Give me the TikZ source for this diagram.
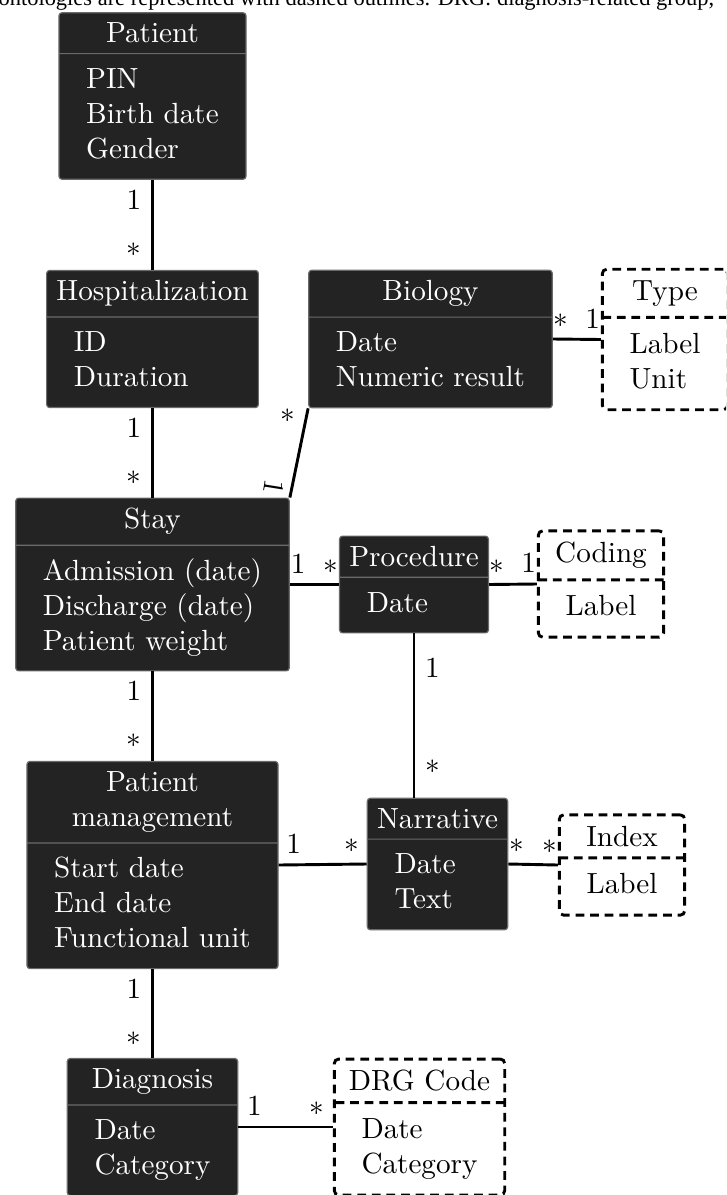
\documentclass[tikz,border=0pt]{standalone}
\usepackage{fontspec}
\newfontfamily\capfont{Liberation Serif}
\usetikzlibrary{shapes.multipart}

\definecolor{boxfill}{HTML}{232323}
\definecolor{boxline}{HTML}{6A6A6A}

\begin{document}
\begin{tikzpicture}[x=0.3428pt, y=-0.3428pt,
  entity/.style={rectangle split, rectangle split parts=2, rectangle split part align={center,left},
    draw=boxline, fill=boxfill, text=white, rounded corners=1pt, align=center},
  onto/.style={rectangle split, rectangle split parts=2, rectangle split part align={center,left},
    draw, line width=1pt, dash pattern=on 3pt off 2pt, rounded corners=1.5pt, align=center},
  assoc/.style={line width=1pt}]

  \useasboundingbox (0,0) rectangle (726,1195);
  \clip (0,0) rectangle (726,1195);

  % end of the caption line above the figure
  \node[anchor=base west, inner sep=0, font=\capfont\fontsize{7.7}{9}\selectfont] (caption) at (-2,5)
    {ontologies are represented with dashed outlines. DRG: diagnosis-related group,};

  % classes
  \node[entity] (patient) at (152.5,96) {Patient\nodepart{second}\begin{tabular}{l}PIN\\Birth date\\Gender\end{tabular}};
  \node[entity] (hosp) at (152.5,339) {Hospitalization\nodepart{second}\begin{tabular}{l}ID\\Duration\end{tabular}};
  \node[entity] (bio) at (430.5,339) {Biology\nodepart{second}\begin{tabular}{l}Date\\Numeric result\end{tabular}};
  \node[entity] (stay) at (152.5,584.5) {Stay\nodepart{second}\begin{tabular}{l}Admission (date)\\Discharge (date)\\Patient weight\end{tabular}};
  \node[entity] (proc) at (414,584.5) {Procedure\nodepart{second}\begin{tabular}{l}Date\end{tabular}};
  \node[entity] (manage) at (152.5,865) {Patient\\management\nodepart{second}\begin{tabular}{l}Start date\\End date\\Functional unit\end{tabular}};
  \node[entity] (narr) at (437.5,864) {Narrative\nodepart{second}\begin{tabular}{l}Date\\Text\end{tabular}};
  \node[entity] (diag) at (152.5,1127) {Diagnosis\nodepart{second}\begin{tabular}{l}Date\\Category\end{tabular}};

  % ontologies
  \node[onto] (type) at (665,339.5) {Type\nodepart{second}\begin{tabular}{l}Label\\Unit\end{tabular}};
  \node[onto, rectangle split part align={center,center}] (coding) at (601,584) {Coding\nodepart{second}\begin{tabular}{c}Label\end{tabular}};
  \node[onto, rectangle split part align={center,center}] (index) at (622,865) {Index\nodepart{second}\begin{tabular}{c}Label\end{tabular}};
  \node[onto] (drg) at (419.5,1127) {DRG Code\nodepart{second}\begin{tabular}{l}Date\\Category\end{tabular}};

  % associations
  \draw[assoc] (patient.south) -- node[pos=.22, left] {1} node[pos=.78, left] {$*$} (hosp.north);
  \draw[assoc] (hosp.south) -- node[pos=.22, left] {1} node[pos=.78, left] {$*$} (stay.north);
  \draw[assoc] (bio.south west) -- node[pos=.08, left] {$*$}
    node[pos=.88, left, inner sep=2pt] {\rotatebox{-99}{1}} (stay.north east);
  \draw[assoc] (bio.east) -- node[pos=.17, above] {$*$} node[pos=.83, above] {1} (type.west);
  \draw[assoc] (stay.east) -- node[pos=.17, above] {1} node[pos=.83, above] {$*$} (proc.west);
  \draw[assoc] (proc.east) -- node[pos=.17, above] {$*$} node[pos=.83, above] {1} (coding.west);
  \draw[assoc] (proc.south) -- node[pos=.21, right] {1} node[pos=.81, right] {$*$} (proc.south |- narr.north);
  \draw[assoc] (stay.south) -- node[pos=.22, left] {1} node[pos=.78, left] {$*$} (manage.north);
  \draw[assoc] (manage.east) -- node[pos=.17, above] {1} node[pos=.83, above] {$*$} (narr.west);
  \draw[assoc] (narr.east) -- node[pos=.17, above] {$*$} node[pos=.83, above] {$*$} (index.west);
  \draw[assoc] (manage.south) -- node[pos=.22, left] {1} node[pos=.78, left] {$*$} (diag.north);
  \draw[assoc] (diag.east) -- node[pos=.17, above] {1} node[pos=.83, above] {$*$} (drg.west);
\end{tikzpicture}
\end{document}
